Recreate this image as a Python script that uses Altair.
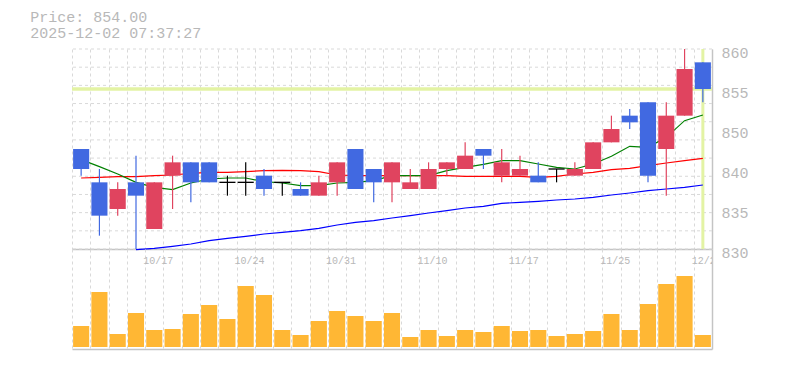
import altair as alt
import pandas as pd

# ---------------- data ----------------
dates = ["10/10", "10/14", "10/15", "10/16", "10/17", "10/20", "10/21", "10/22", "10/23", "10/24",
         "10/27", "10/28", "10/29", "10/30", "10/31", "11/4", "11/5", "11/6", "11/7", "11/10",
         "11/11", "11/12", "11/13", "11/14", "11/17", "11/18", "11/19", "11/20", "11/21", "11/25",
         "11/26", "11/27", "11/28", "12/1", "12/2"]
opens = [845, 840, 836, 840, 833, 841, 843, 843, 840, 840,
         841, 840, 839, 838, 840, 845, 842, 840, 839, 839,
         842, 842, 845, 841, 841, 841, 842, 841, 842, 846,
         850, 852, 845, 850, 858]
highs = [845, 842, 840, 844, 840, 844, 843, 843, 841, 843,
         842, 840, 840, 841, 843, 845, 842, 843, 842, 843,
         843, 846, 845, 845, 844, 843, 842, 843, 846, 850,
         851, 852, 852, 860, 858]
lows = [841, 832, 835, 830, 833, 836, 837, 840, 838, 838,
        838, 838, 838, 838, 838, 839, 837, 837, 839, 839,
        841, 842, 842, 840, 841, 840, 840, 841, 842, 846,
        848, 840, 838, 850, 852]
closes = [842, 835, 839, 838, 840, 843, 840, 840, 840, 840,
          839, 840, 838, 840, 843, 839, 840, 843, 840, 842,
          843, 844, 844, 843, 842, 840, 842, 842, 846, 848,
          849, 841, 850, 857, 854]
ma5 = [843.4, 842.35, 841.25, 840.0, 839.25, 838.9, 839.9, 840.5, 840.65, 840.65,
       840.1, 839.9, 839.5, 839.5, 839.9, 840.0, 840.25, 841.0, 841.0, 841.0,
       841.75, 842.25, 842.7, 843.25, 843.25, 842.75, 842.25, 842.0, 842.75, 843.9,
       845.4, 845.25, 846.75, 849.25, 850.1]
ma25 = [840.65, 840.75, 840.85, 840.85, 841.0, 841.1, 841.35, 841.5, 841.5, 841.6,
        841.75, 841.8, 841.75, 841.6, 841.1, 841.0, 841.0, 841.0, 841.0, 841.0,
        841.0, 840.9, 840.9, 840.9, 840.9, 840.75, 840.9, 841.25, 841.5, 841.9,
        842.1, 842.5, 842.9, 843.25, 843.6]
ma75 = [None, None, None, 829.9, 830.1, 830.4, 830.75, 831.25, 831.6, 831.9,
        832.25, 832.5, 832.75, 833.1, 833.6, 834.0, 834.25, 834.65, 835.0, 835.4,
        835.75, 836.15, 836.4, 836.85, 837.0, 837.15, 837.35, 837.5, 837.75, 838.1,
        838.4, 838.75, 839.0, 839.25, 839.6]
volumes = [21, 55, 13, 34, 17, 18, 33, 42, 28, 61,
           52, 17, 12, 26, 36, 31, 26, 34, 10, 17,
           11, 17, 15, 21, 16, 17, 11, 13, 16, 33,
           17, 43, 63, 71, 12]
tick_dates = ["10/17", "10/24", "10/31", "11/10", "11/17", "11/25", "12/2"]
price_ticks = [830, 836, 842, 848, 854, 860]
last_price = 854.0
timestamp = "2025-12-02 07:37:27"

# ---------------- tables ----------------
n = len(dates)
df = pd.DataFrame({"i": list(range(n)), "date": dates, "open": opens, "high": highs,
                   "low": lows, "close": closes, "vol": volumes})
df["dir"] = ["up" if c > o else ("down" if c < o else "flat") for o, c in zip(opens, closes)]

ma_rows = []
for name, arr in (("ma75", ma75), ("ma25", ma25), ("ma5", ma5)):
    for i, v in enumerate(arr):
        if v is not None:
            ma_rows.append({"i": i, "ma": v, "series": name})
ma_df = pd.DataFrame(ma_rows)

tick_df = pd.DataFrame({"i": [dates.index(d) for d in tick_dates], "label": tick_dates})
grid_df = pd.DataFrame({"g": [830 + 30 * k / 11 for k in range(12)]})
boundaries = [k - 0.5 for k in range(n + 1)]

FONT = "Liberation Mono"
TXT = "#b8b8b8"
GRID = "#d9d9d9"
BORDER = "#c4c4c4"
RED = "#e0445f"
BLUE = "#4169e1"

xscale = alt.Scale(domain=[-0.5, n - 0.5], nice=False, zero=False)
yscale = alt.Scale(domain=[830, 860], nice=False, zero=False)

x_axis = alt.Axis(values=boundaries, labels=False, ticks=False, title=None,
                  grid=True, gridDash=[3, 3], gridColor=GRID, gridWidth=1,
                  domain=True, domainColor=BORDER, domainWidth=1.5)
y_axis = alt.Axis(orient="right", values=price_ticks, title=None, grid=False, ticks=False,
                  domain=True, domainColor=BORDER, domainWidth=1.5,
                  labelExpr="format(round(datum.value / 5) * 5, 'd')",
                  labelFont=FONT, labelFontSize=15, labelColor=TXT, labelPadding=9,
                  labelBaseline="middle", labelOffset=3, labelFlush=False, labelOverlap=False)

X = lambda f: alt.X(f, scale=xscale, axis=x_axis)
Y = lambda f: alt.Y(f, scale=yscale, axis=y_axis)

dir_color = alt.Color("dir:N", scale=alt.Scale(domain=["up", "down", "flat"],
                                                range=[RED, BLUE, "#000000"]), legend=None)

base = alt.Chart(df).transform_calculate(x0="datum.i - 0.44", x1="datum.i + 0.44")

hgrid = alt.Chart(grid_df).mark_rule(color=GRID, strokeDash=[3, 3], strokeWidth=1).encode(
    y=Y("g:Q"))
price_line = alt.Chart(pd.DataFrame({"p": [last_price]})).mark_rule(
    color="#e3f3a4", strokeWidth=3.5).encode(y=Y("p:Q"))
now_line = alt.Chart(pd.DataFrame({"i": [n - 1]})).mark_rule(
    color="#e3f3a4", strokeWidth=3).encode(x=X("i:Q"))
mas = alt.Chart(ma_df).mark_line(strokeWidth=1.2).encode(
    x=X("i:Q"), y=Y("ma:Q"),
    color=alt.Color("series:N", scale=alt.Scale(domain=["ma5", "ma25", "ma75"],
                                                 range=["#008000", "#ff0000", "#0000ff"]),
                    legend=None),
    detail="series:N")
wicks = base.mark_rule(strokeWidth=1.2).encode(x=X("i:Q"), y=Y("low:Q"), y2="high:Q", color=dir_color)
bodies = base.transform_filter("datum.dir != 'flat'").mark_bar().encode(
    x=X("x0:Q"), x2="x1:Q", y=Y("open:Q"), y2="close:Q", color=dir_color)
doji = base.transform_filter("datum.dir == 'flat'").mark_rule(strokeWidth=1.3, color="#000000").encode(
    x=X("x0:Q"), x2="x1:Q", y=Y("open:Q"))

price = alt.layer(hgrid, price_line, now_line, mas, wicks, bodies, doji).resolve_scale(
    color="independent").properties(width=640, height=200)

vy_axis = alt.Axis(orient="right", labels=False, ticks=False, grid=False, title=None,
                   domain=True, domainColor=BORDER, domainWidth=1.5)
vbars = base.mark_bar(color="#ffb734").encode(
    x=X("x0:Q"), x2="x1:Q",
    y=alt.Y("vol:Q", scale=alt.Scale(domain=[-2, 98], nice=False), axis=vy_axis),
    y2=alt.datum(0))
vlabels = alt.Chart(tick_df).transform_calculate(xl="datum.i - 0.5").mark_text(
    align="left", baseline="middle", font=FONT, fontSize=10, color=TXT, dx=-2, clip=True).encode(
    x=X("xl:Q"), y=alt.value(12), text="label:N")
volume = alt.layer(vbars, vlabels).properties(width=640, height=100)

chart = alt.vconcat(price, volume, spacing=0, bounds="flush").properties(
    title=alt.TitleParams(text=["Price: 854.00", timestamp], anchor="start", font=FONT,
                          fontSize=15, fontWeight="normal", color=TXT, dx=-40, offset=4,
                          lineHeight=16),
    padding={"left": 30, "top": 10, "right": 5, "bottom": 5},
).configure_view(stroke=None)

chart.save("out.html", embed_options={"renderer": "svg", "actions": False})
